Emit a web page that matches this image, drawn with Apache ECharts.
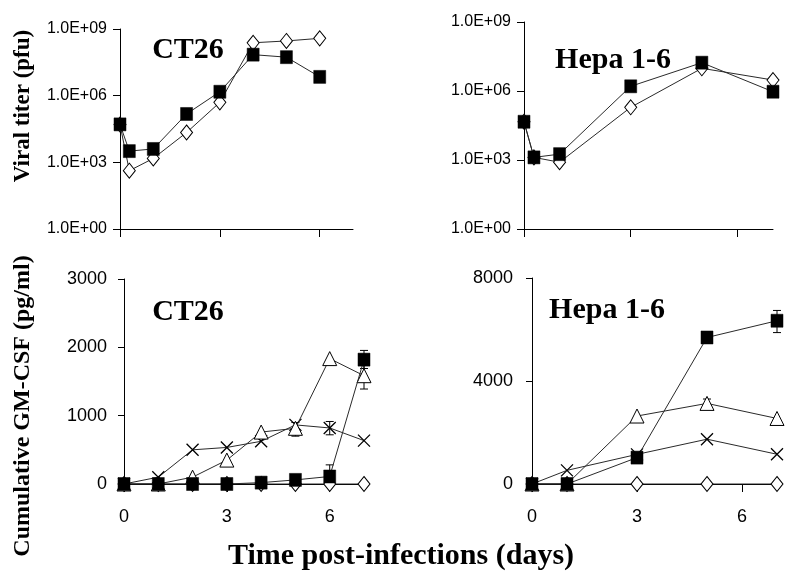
<!DOCTYPE html>
<html>
<head>
<meta charset="utf-8">
<script src="https://cdn.jsdelivr.net/npm/echarts@6/dist/echarts.min.js"></script>
<style>
html,body{margin:0;padding:0;background:#fff;}
#chart{width:800px;height:583px;}
</style>
</head>
<body>
<div id="chart"></div>
<script>
// ---- Data ----
// Top-left: CT26 viral titer (pfu)
var tlX = [0, 0.28, 1, 2, 3, 4, 5, 6];
var tlSquare = [5.1e4, 3.2e3, 4.0e3, 1.5e5, 1.5e6, 7.0e7, 5.4e7, 7.0e6];
var tlDiamond = [5.0e4, 420, 1.5e3, 2.2e4, 5.0e5, 2.4e8, 2.9e8, 3.8e8];

// Top-right: Hepa 1-6 viral titer (pfu)
var trX = [0, 0.28, 1, 3, 5, 7];
var trSquare = [4.6e4, 1.3e3, 1.8e3, 1.6e6, 1.7e7, 9.3e5];
var trDiamond = [4.6e4, 1.3e3, 800, 1.95e5, 9.7e6, 3.0e6];

// Bottom-left: CT26 cumulative GM-CSF (pg/ml)
var blX = [0, 1, 2, 3, 4, 5, 6, 7];
var blSquare = [0, 0, 0, 0, 20, 60, 110, 1820];
var blTriangle = [0, 0, 100, 350, 760, 815, 1835, 1585];
var blCross = [0, 100, 500, 535, 625, 865, 820, 635];
var blDiamond = [0, 0, 0, 0, 0, 0, 0, 0];
var blErr = [[5, 700, 900], [6, 0, 280], [6, 720, 915], [7, 1690, 1955], [7, 1390, 1780]];

// Bottom-right: Hepa 1-6 cumulative GM-CSF (pg/ml)
var brX = [0, 1, 3, 5, 7];
var brSquare = [0, 0, 1025, 5690, 6340];
var brTriangle = [0, 0, 2640, 3130, 2545];
var brCross = [0, 530, 1150, 1740, 1155];
var brDiamond = [0, 0, 0, 0, 0];
var brErr = [[5, 2950, 3300], [7, 5880, 6740]];

// Axis ticks
var xTicks = [0, 3, 6];

// Texts
var panelTitles = ['CT26', 'Hepa 1-6', 'CT26', 'Hepa 1-6'];
var yNameTop = 'Viral titer (pfu)';
var yNameBottom = 'Cumulative GM-CSF (pg/ml)';
var xName = 'Time post-infections (days)';

// ---- Helpers ----
function zip(xs, ys) { return xs.map(function (x, i) { return [x, ys[i]]; }); }

var LINE = '#2a2a2a';
var SANS = "'Liberation Sans', Arial, sans-serif";
var SERIF = "'Liberation Serif', 'Times New Roman', serif";
var crossPath = 'path://M0,0L10,10M10,0L0,10';

function mkLine(idx, xs, ys, kind, z) {
  var s = {
    type: 'line', xAxisIndex: idx, yAxisIndex: idx,
    data: zip(xs, ys), z: z,
    lineStyle: { color: LINE, width: 1 },
    emphasis: { disabled: true },
    animation: false
  };
  if (kind === 'square') {
    s.symbol = 'rect'; s.symbolSize = [12, 13];
    s.itemStyle = { color: '#000', borderColor: '#000', borderWidth: 0.5 };
  } else if (kind === 'diamond') {
    s.symbol = 'diamond'; s.symbolSize = [12, 15];
    s.itemStyle = { color: '#fff', borderColor: '#000', borderWidth: 1 };
  } else if (kind === 'triangle') {
    s.symbol = 'triangle'; s.symbolSize = [14, 14];
    s.itemStyle = { color: '#fff', borderColor: '#000', borderWidth: 1 };
  } else if (kind === 'cross') {
    s.symbol = crossPath; s.symbolSize = [12, 12];
    s.itemStyle = { color: 'rgba(0,0,0,0)', borderColor: '#000', borderWidth: 1.3 };
  }
  s.showAllSymbol = true;
  return s;
}

function mkErr(idx, arr) {
  return {
    type: 'custom', xAxisIndex: idx, yAxisIndex: idx, z: 1,
    data: arr, animation: false,
    renderItem: function (params, api) {
      var x = api.value(0), lo = api.value(1), hi = api.value(2);
      var p1 = api.coord([x, lo]), p2 = api.coord([x, hi]);
      var w = 4;
      var st = { stroke: '#000', lineWidth: 1 };
      return {
        type: 'group', children: [
          { type: 'line', shape: { x1: p1[0], y1: p1[1], x2: p2[0], y2: p2[1] }, style: st },
          { type: 'line', shape: { x1: p1[0] - w, y1: p1[1], x2: p1[0] + w, y2: p1[1] }, style: st },
          { type: 'line', shape: { x1: p2[0] - w, y1: p2[1], x2: p2[0] + w, y2: p2[1] }, style: st }
        ]
      };
    }
  };
}

function xAxisCfg(idx, showLabels, labelMargin) {
  return {
    type: 'value', gridIndex: idx, min: 0, max: 7,
    axisLine: { show: true, lineStyle: { color: '#000', width: 1 } },
    axisTick: { show: true, length: 8, customValues: xTicks, lineStyle: { color: '#000' } },
    axisLabel: { show: showLabels, customValues: xTicks, margin: labelMargin || 8,
      fontFamily: SANS, fontSize: 18, color: '#000',
      formatter: function (v) { return String(v); } },
    splitLine: { show: false }
  };
}

function logYAxis(idx) {
  return {
    type: 'log', logBase: 10, gridIndex: idx, min: 1, max: 1e9, interval: 3,
    axisLine: { show: true, lineStyle: { color: '#000', width: 1 } },
    axisTick: { show: true, length: 7, lineStyle: { color: '#000' } },
    axisLabel: {
      margin: 13, fontFamily: SANS, fontSize: 16, color: '#000',
      formatter: function (v) {
        var e = Math.round(Math.log10(v));
        return '1.0E+' + (e < 10 ? '0' + e : '' + e);
      }
    },
    splitLine: { show: false }
  };
}

function linYAxis(idx, max, interval, margin) {
  return {
    type: 'value', gridIndex: idx, min: 0, max: max, interval: interval,
    axisLine: { show: true, lineStyle: { color: '#000', width: 1 } },
    axisTick: { show: true, length: 6, lineStyle: { color: '#000' } },
    axisLabel: { margin: margin, fontFamily: SANS, fontSize: 18, color: '#000',
      formatter: function (v) { return String(v); } },
    splitLine: { show: false }
  };
}

function txt(x, y, text, font, rot) {
  return {
    type: 'text', x: x, y: y, rotation: rot || 0, silent: true,
    style: { text: text, font: font, fill: '#000', align: 'center', verticalAlign: 'middle' }
  };
}

var option = {
  backgroundColor: '#fff',
  animation: false,
  grid: [
    { left: 120, top: 29, width: 233, height: 200 },
    { left: 524, top: 22, width: 249, height: 207 },
    { left: 124, top: 279, width: 240, height: 205 },
    { left: 532, top: 278, width: 245, height: 206 }
  ],
  xAxis: [
    xAxisCfg(0, false),
    xAxisCfg(1, false),
    xAxisCfg(2, true, 24),
    xAxisCfg(3, true, 24)
  ],
  yAxis: [
    logYAxis(0),
    logYAxis(1),
    linYAxis(2, 3000, 1000, 17),
    linYAxis(3, 8000, 4000, 19)
  ],
  series: [
    mkLine(0, tlX, tlDiamond, 'diamond', 2),
    mkLine(0, tlX, tlSquare, 'square', 3),
    mkLine(1, trX, trDiamond, 'diamond', 2),
    mkLine(1, trX, trSquare, 'square', 3),
    mkErr(2, blErr),
    mkLine(2, blX, blDiamond, 'diamond', 2),
    mkLine(2, blX, blCross, 'cross', 3),
    mkLine(2, blX, blTriangle, 'triangle', 4),
    mkLine(2, blX, blSquare, 'square', 5),
    mkErr(3, brErr),
    mkLine(3, brX, brDiamond, 'diamond', 2),
    mkLine(3, brX, brCross, 'cross', 3),
    mkLine(3, brX, brTriangle, 'triangle', 4),
    mkLine(3, brX, brSquare, 'square', 5)
  ],
  graphic: [
    txt(188, 50, panelTitles[0], 'bold 30px ' + SERIF),
    txt(613, 60, panelTitles[1], 'bold 30px ' + SERIF),
    txt(188, 312, panelTitles[2], 'bold 30px ' + SERIF),
    txt(607, 310, panelTitles[3], 'bold 30px ' + SERIF),
    txt(23, 106, yNameTop, 'bold 23px ' + SERIF, Math.PI / 2),
    txt(23, 406, yNameBottom, 'bold 24px ' + SERIF, Math.PI / 2),
    txt(401, 556, xName, 'bold 30px ' + SERIF)
  ]
};

var chart = echarts.init(document.getElementById('chart'), null, { renderer: 'canvas' });
chart.setOption(option);
</script>
</body>
</html>
